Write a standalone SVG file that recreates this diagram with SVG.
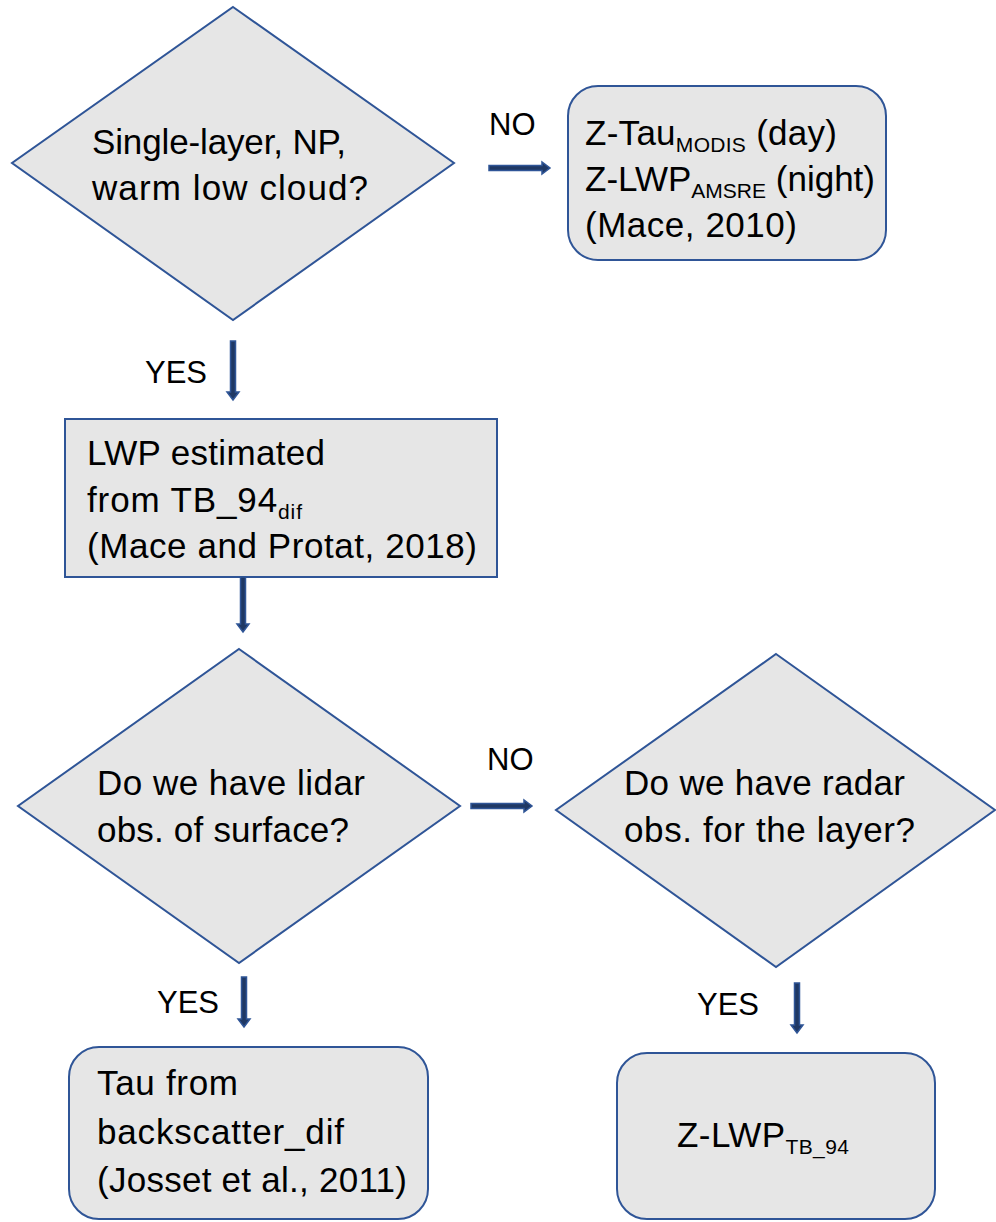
<svg xmlns="http://www.w3.org/2000/svg" width="996" height="1222" viewBox="0 0 996 1222">
<style>
.shape{fill:#e6e6e6;stroke:#2f5597;stroke-width:2}
.t{font-family:"Liberation Sans",Arial,sans-serif;font-size:35px;fill:#000}
.l{font-family:"Liberation Sans",Arial,sans-serif;font-size:31px;fill:#000}
.sub{font-size:21px}
.arrow{fill:#1f3864;stroke:#2f5597;stroke-width:1.5}
</style>
<rect width="996" height="1222" fill="#fff"/>
<g id="decision-single-layer">
<polygon class="shape" points="233,7 454,163 233,320 12,163"/>
<text class="t" x="92" y="154" textLength="254" lengthAdjust="spacing">Single-layer, NP,</text>
<text class="t" x="92" y="200" textLength="276" lengthAdjust="spacing">warm low cloud?</text>
</g>
<g id="box-mace-2010">
<rect class="shape" x="568" y="86" width="318" height="174" rx="30"/>
<text class="t" x="585" y="145" textLength="252" lengthAdjust="spacing">Z-Tau<tspan class="sub" dy="7">MODIS</tspan><tspan dy="-7"> (day)</tspan></text>
<text class="t" x="585" y="191" textLength="290" lengthAdjust="spacing">Z-LWP<tspan class="sub" dy="7">AMSRE</tspan><tspan dy="-7"> (night)</tspan></text>
<text class="t" x="585" y="237" textLength="212" lengthAdjust="spacing">(Mace, 2010)</text>
</g>
<g id="box-lwp-estimated">
<rect class="shape" x="65" y="419" width="432" height="158"/>
<text class="t" x="87" y="465" textLength="238" lengthAdjust="spacing">LWP estimated</text>
<text class="t" x="87" y="512" textLength="215" lengthAdjust="spacing">from TB_94<tspan class="sub" dy="7">dif</tspan></text>
<text class="t" x="87" y="558" textLength="390" lengthAdjust="spacing">(Mace and Protat, 2018)</text>
</g>
<g id="decision-lidar">
<polygon class="shape" points="239,649 460,806 239,963 18,806"/>
<text class="t" x="97" y="795" textLength="268" lengthAdjust="spacing">Do we have lidar</text>
<text class="t" x="97" y="842" textLength="252" lengthAdjust="spacing">obs. of surface?</text>
</g>
<g id="decision-radar">
<polygon class="shape" points="776,654 995,810 776,967 556,810"/>
<text class="t" x="624" y="795" textLength="281" lengthAdjust="spacing">Do we have radar</text>
<text class="t" x="624" y="842" textLength="291" lengthAdjust="spacing">obs. for the layer?</text>
</g>
<g id="box-josset">
<rect class="shape" x="69" y="1047" width="359" height="172" rx="30"/>
<text class="t" x="97" y="1095" textLength="141" lengthAdjust="spacing">Tau from</text>
<text class="t" x="97" y="1144" textLength="247" lengthAdjust="spacing">backscatter_dif</text>
<text class="t" x="97" y="1192" textLength="310" lengthAdjust="spacing">(Josset et al., 2011)</text>
</g>
<g id="box-zlwp-tb94">
<rect class="shape" x="617" y="1053" width="318" height="166" rx="30"/>
<text class="t" x="677" y="1147" textLength="172" lengthAdjust="spacing">Z-LWP<tspan class="sub" dy="7">TB_94</tspan></text>
</g>
<g id="connectors">
<path class="arrow" d="M489,165.5 H542 V162 L550,168 L542,174 V170.5 H489 Z"/>
<path class="arrow" d="M230.5,341 H235.5 V392 H239 L233,400 L227,392 H230.5 Z"/>
<path class="arrow" d="M240.5,577 H245.5 V624 H249 L243,632 L237,624 H240.5 Z"/>
<path class="arrow" d="M471,803.5 H524 V800 L532,806 L524,812 V808.5 H471 Z"/>
<path class="arrow" d="M241.5,977 H246.5 V1019 H250 L244,1027 L238,1019 H241.5 Z"/>
<path class="arrow" d="M794.5,983 H799.5 V1025 H803 L797,1033 L791,1025 H794.5 Z"/>
<text class="l" x="489" y="135">NO</text>
<text class="l" x="145" y="383">YES</text>
<text class="l" x="487" y="770">NO</text>
<text class="l" x="157" y="1013">YES</text>
<text class="l" x="697" y="1015">YES</text>
</g>
</svg>
